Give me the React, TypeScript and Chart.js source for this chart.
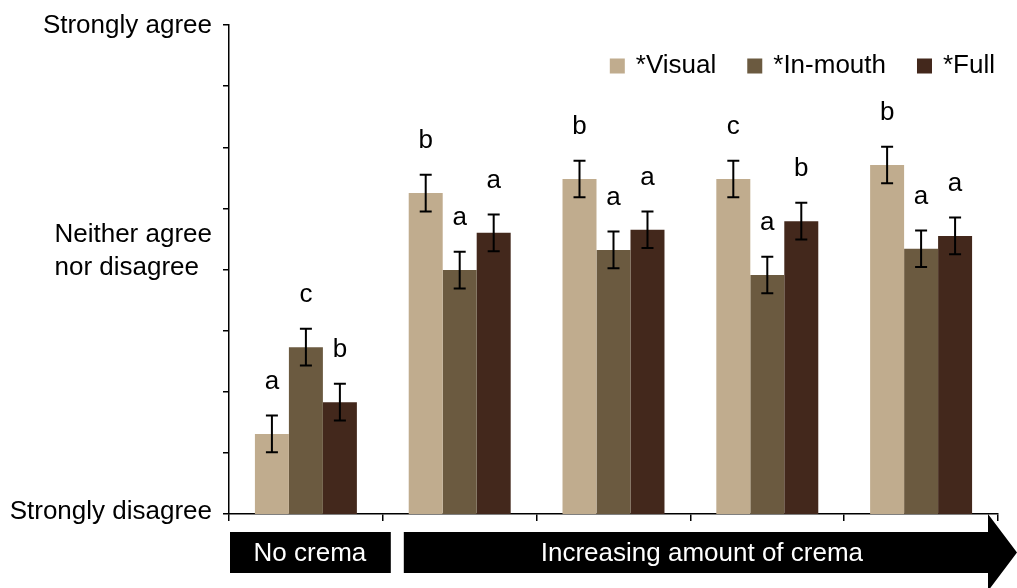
import React, { useEffect, useRef } from 'react';
import { Chart, registerables } from 'chart.js';

Chart.register(...registerables);

const categories = ['No crema', 'Crema level 1', 'Crema level 2', 'Crema level 3', 'Crema level 4'];
const seriesNames = ['*Visual', '*In-mouth', '*Full'];
const seriesColors = ['#C0AC8E', '#6B5A40', '#43281C'];

const visualMeans = [2.31, 6.25, 6.48, 6.48, 6.71];
const inMouthMeans = [3.73, 4.99, 5.32, 4.91, 5.34];
const fullMeans = [2.83, 5.6, 5.65, 5.79, 5.55];

const visualErr = [0.3, 0.3, 0.3, 0.3, 0.3];
const inMouthErr = [0.3, 0.3, 0.3, 0.3, 0.3];
const fullErr = [0.3, 0.3, 0.3, 0.3, 0.3];

const visualLetters = ['a', 'b', 'b', 'c', 'b'];
const inMouthLetters = ['c', 'a', 'a', 'a', 'a'];
const fullLetters = ['b', 'a', 'a', 'b', 'a'];

const yTickValues = [1, 5, 9];
const yTickLabels = ['Strongly disagree', 'Neither agree\nnor disagree', 'Strongly agree'];
const bannerLabels = ['No crema', 'Increasing amount of crema'];

const FONT = '"Liberation Sans", Arial, sans-serif';
const FONT_SIZE = 26;

const decorPlugin = {
  id: 'decor',
  afterDatasetsDraw(chart: any) {
    const ctx = chart.ctx;
    const y = chart.scales.y;
    ctx.save();
    chart.data.datasets.forEach((ds: any, di: number) => {
      const meta = chart.getDatasetMeta(di);
      meta.data.forEach((bar: any, i: number) => {
        const v = ds.data[i];
        const e = ds.errors[i];
        const top = y.getPixelForValue(v + e);
        const bot = y.getPixelForValue(v - e);
        ctx.strokeStyle = '#000';
        ctx.lineWidth = 2;
        ctx.beginPath();
        ctx.moveTo(bar.x, top);
        ctx.lineTo(bar.x, bot);
        ctx.moveTo(bar.x - 6, top);
        ctx.lineTo(bar.x + 6, top);
        ctx.moveTo(bar.x - 6, bot);
        ctx.lineTo(bar.x + 6, bot);
        ctx.stroke();
        ctx.fillStyle = '#000';
        ctx.font = `${FONT_SIZE}px ${FONT}`;
        ctx.textAlign = 'center';
        ctx.textBaseline = 'middle';
        ctx.fillText(ds.letters[i], bar.x, top - 34);
      });
    });
    ctx.restore();
  },
  afterDraw(chart: any) {
    const ctx = chart.ctx;
    const y = chart.scales.y;
    const x = chart.scales.x;
    const area = chart.chartArea;
    ctx.save();
    ctx.font = `${FONT_SIZE}px ${FONT}`;
    ctx.fillStyle = '#000';
    ctx.textBaseline = 'middle';

    // y labels
    const labelRight = area.left - 17;
    yTickValues.forEach((val, i) => {
      const py = y.getPixelForValue(val);
      const lines = yTickLabels[i].split('\n');
      if (lines.length === 1) {
        ctx.textAlign = 'right';
        ctx.fillText(lines[0], labelRight, val === yTickValues[0] ? py - 2 : py + 1);
      } else {
        const w = Math.max(...lines.map((l) => ctx.measureText(l).width));
        ctx.textAlign = 'left';
        const lh = 33;
        const startY = py - 35;
        lines.forEach((l, li) => ctx.fillText(l, labelRight - w, startY + li * lh));
      }
    });

    // legend
    const items = chart.data.datasets.map((ds: any) => ({ label: ds.label, color: ds.backgroundColor }));
    const box = 15;
    const gapText = 11;
    const gapItem = 31;
    const widths = items.map((it: any) => box + gapText + ctx.measureText(it.label).width);
    const total = widths.reduce((a: number, b: number) => a + b, 0) + gapItem * (items.length - 1);
    let lx = area.right - 3 - total;
    const ly = 66;
    ctx.textAlign = 'left';
    items.forEach((it: any, i: number) => {
      ctx.fillStyle = it.color;
      ctx.fillRect(lx, ly - box / 2, box, box);
      ctx.fillStyle = '#000';
      ctx.fillText(it.label, lx + box + gapText, ly);
      lx += widths[i] + gapItem;
    });

    // banner
    const boundary = (x.getPixelForValue(0) + x.getPixelForValue(1)) / 2;
    const bTop = 532;
    const bBot = 573;
    const bMid = (bTop + bBot) / 2;
    ctx.fillStyle = '#000';
    ctx.fillRect(area.left + 1, bTop, boundary + 8 - (area.left + 1), bBot - bTop);
    const arrowStart = boundary + 21;
    const headStart = area.right - 10;
    ctx.beginPath();
    ctx.moveTo(arrowStart, bTop);
    ctx.lineTo(headStart, bTop);
    ctx.lineTo(headStart, area.bottom);
    ctx.lineTo(chart.width, bMid);
    ctx.lineTo(headStart, chart.height + 3);
    ctx.lineTo(headStart, bBot);
    ctx.lineTo(arrowStart, bBot);
    ctx.closePath();
    ctx.fill();
    ctx.fillStyle = '#fff';
    ctx.textAlign = 'center';
    ctx.fillText(bannerLabels[0], (area.left + boundary + 8) / 2, bMid + 1);
    ctx.fillText(bannerLabels[1], (arrowStart + headStart) / 2 + 6, bMid + 1);
    ctx.restore();
  },
};

export default function App() {
  const canvasRef = useRef<HTMLCanvasElement | null>(null);

  useEffect(() => {
    if (!canvasRef.current) return;
    const chart = new Chart(canvasRef.current, {
      type: 'bar',
      data: {
        labels: categories,
        datasets: [
          { label: seriesNames[0], data: visualMeans, backgroundColor: seriesColors[0], errors: visualErr, letters: visualLetters } as any,
          { label: seriesNames[1], data: inMouthMeans, backgroundColor: seriesColors[1], errors: inMouthErr, letters: inMouthLetters } as any,
          { label: seriesNames[2], data: fullMeans, backgroundColor: seriesColors[2], errors: fullErr, letters: fullLetters } as any,
        ],
      },
      options: {
        animation: false,
        responsive: true,
        maintainAspectRatio: false,
        datasets: { bar: { categoryPercentage: 0.663, barPercentage: 1.0, borderWidth: 0 } },
        layout: { padding: { left: 0, top: 25, right: 19, bottom: 67 } },
        plugins: { legend: { display: false }, tooltip: { enabled: false } },
        scales: {
          x: {
            ticks: { display: false },
            grid: { offset: true, drawOnChartArea: false, drawTicks: true, tickLength: 7, color: '#000', lineWidth: 1.5 },
            border: { display: true, color: '#000', width: 1.5 },
            afterFit: (s: any) => { s.height = 7; },
          },
          y: {
            min: 1,
            max: 9,
            ticks: { display: false, stepSize: 1 },
            grid: { drawOnChartArea: false, drawTicks: true, tickLength: 6, color: '#000', lineWidth: 1.5 },
            border: { display: true, color: '#000', width: 1.5 },
            afterFit: (s: any) => { s.width = 229; },
          },
        },
      } as any,
      plugins: [decorPlugin],
    });
    return () => chart.destroy();
  }, []);

  return (
    <div style={{ position: 'fixed', left: 0, top: 0, width: 1017, height: 588, background: '#fff' }}>
      <canvas ref={canvasRef} style={{ display: 'block' }} />
    </div>
  );
}
